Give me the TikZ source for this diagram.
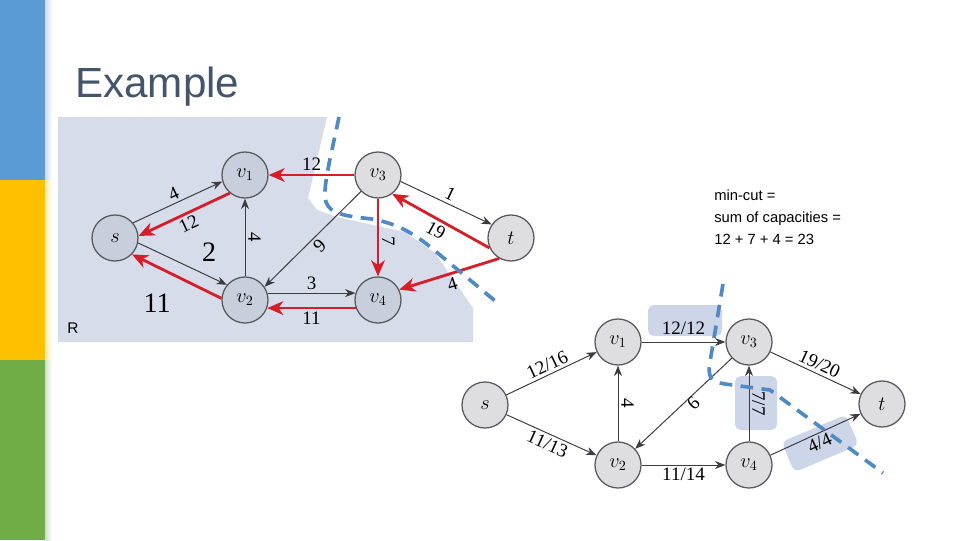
\documentclass[tikz,border=0pt]{standalone}
\usepackage{fontspec}
\setmainfont{Liberation Serif}
\newfontfamily\slidesans{Liberation Sans}
\usepackage{tikz}
\usetikzlibrary{arrows.meta,positioning}
\definecolor{barblue}{RGB}{91,155,213}
\definecolor{baryellow}{RGB}{255,192,0}
\definecolor{bargreen}{RGB}{112,173,71}
\definecolor{titlegray}{RGB}{68,84,106}
\definecolor{regionblue}{RGB}{214,220,234}
\definecolor{hiblue}{RGB}{205,213,233}
\definecolor{cutblue}{RGB}{80,138,196}
\definecolor{resred}{RGB}{214,30,40}
\definecolor{edgegray}{RGB}{60,60,64}
\definecolor{nodefill}{RGB}{222,222,224}
\definecolor{lnodefill}{RGB}{200,206,220}

\tikzset{
  vtx/.style={circle,draw=edgegray!85,line width=0.9pt,fill=nodefill,minimum size=1.15cm,inner sep=0pt,font=\fontsize{14}{14}\selectfont},
  lvtx/.style={vtx,fill=lnodefill},
  gedge/.style={draw=edgegray,line width=0.7pt,-{Stealth[length=2.6mm,width=2mm]}},
  redge/.style={draw=resred,line width=2pt,-{Stealth[length=4mm,width=3.4mm,inset=1.2mm]}},
  elab/.style={font=\fontsize{13.5}{14}\selectfont,inner sep=2pt},
  biglab/.style={font=\fontsize{20}{20}\selectfont,inner sep=2pt},
  cutline/.style={draw=cutblue,line width=2.6pt,dash pattern=on 9pt off 6pt},
  hibox/.style={fill=hiblue,rounded corners=4pt}
}

\begin{document}
\begin{tikzpicture}[x=0.025cm,y=-0.025cm,>=Stealth]
  \useasboundingbox (0,0) rectangle (960,540);
  % slide bar
  \foreach \c/\ya/\yb in {barblue/0/180,baryellow/180/360,bargreen/360/540}{
    \fill[\c] (0,\ya) rectangle (45,\yb);
    \shade[left color=\c!35,right color=white] (45,\ya) rectangle (52,\yb);
  }
  \node[anchor=base west,inner sep=0,text=titlegray,font=\slidesans\fontsize{30}{30}\selectfont] (title) at (75,97) {Example};

  % residual network, set R shaded
  \fill[regionblue] (58,117) -- (327,117) -- (308,198) -- (317,210) -- (337,217) -- (405,232) -- (435,253) -- (473,308) -- (473,342) -- (58,342) -- cycle;
  \node[lvtx] (ls) at (115,238) {$s$};
  \node[lvtx] (lv1) at (245,175) {$v_1$};
  \node[vtx] (lv3) at (378,175) {$v_3$};
  \node[vtx] (lt) at (511,238) {$t$};
  \node[lvtx] (lv2) at (245,300) {$v_2$};
  \node[lvtx] (lv4) at (378,300) {$v_4$};
  \draw[gedge] (ls.40) -- node[elab,sloped,above] (la) {4} (lv1.196);
  \draw[redge] (lv1.230) -- node[elab,sloped,below] (lb) {12} (ls.5);
  \draw[gedge] (ls.-12) -- node[biglab,pos=0.8,yshift=17pt] (lc) {2} (lv2.140);
  \draw[redge] (lv2.176) -- node[biglab,pos=0.72,yshift=-26pt] (ld) {11} (ls.-44);
  \draw[gedge] (lv2) -- node[elab,rotate=-90,anchor=south] (le) {4} (lv1);
  \draw[gedge] (lv3.224) -- node[elab,sloped,below] (lf) {9} (lv2.34);
  \draw[gedge] (lv2.17) -- node[elab,above] (lg) {3} (lv4.163);
  \draw[redge] (lv4.200) -- node[elab,below] (lh) {11} (lv2.-20);
  \draw[redge] (lv3) -- node[elab,above] (li) {12} (lv1);
  \draw[gedge] (lv3.-16) -- node[elab,sloped,above] (lj) {1} (lt.145);
  \draw[redge] (lt.205) -- node[elab,sloped,below] (lk) {19} (lv3.-53);
  \draw[redge] (lv3) -- node[elab,rotate=-90,anchor=south,pos=0.55] (ll) {7} (lv4);
  \draw[redge] (lt.240) -- node[elab,sloped,below] (lm) {4} (lv4.26);
  \node[font=\slidesans\fontsize{11}{11}\selectfont] (rset) at (73,328) {R};
  \draw[cutline] (339,117) .. controls (330,160) and (322,190) .. (326,202)
    .. controls (330,214) and (345,216) .. (372,219)
    .. controls (400,224) and (418,236) .. (440,255) -- (500,305);

  % flow network with the cut edges marked
  \fill[hibox] (648,305) rectangle (722,336);
  \fill[hibox] (735,376) rectangle (777,430);
  \fill[hibox,rotate around={23:(820,443)}] (785,427) rectangle (855,460);
  \node[vtx] (rs) at (485,405) {$s$};
  \node[vtx] (rv1) at (618,342) {$v_1$};
  \node[vtx] (rv3) at (749,342) {$v_3$};
  \node[vtx] (rt) at (882,404) {$t$};
  \node[vtx] (rv2) at (618,465) {$v_2$};
  \node[vtx] (rv4) at (749,465) {$v_4$};
  \draw[gedge] (rs) -- node[elab,sloped,above] (ra) {12/16} (rv1);
  \draw[gedge] (rs) -- node[elab,sloped,below] (rb) {11/13} (rv2);
  \draw[gedge] (rv1) -- node[elab,above=3pt] (rc) {12/12} (rv3);
  \draw[gedge] (rv2) -- node[elab,rotate=-90,anchor=south] (rd) {4} (rv1);
  \draw[gedge] (rv3) -- node[elab,xshift=7pt,rotate=-135] (re) {9} (rv2);
  \draw[gedge] (rv2) -- node[elab,below] (rf) {11/14} (rv4);
  \draw[gedge] (rv4) -- node[elab,rotate=-90,anchor=south] (rg) {7/7} (rv3);
  \draw[gedge] (rv3) -- node[elab,sloped,above] (rh) {19/20} (rt);
  \draw[gedge] (rv4) -- node[elab,sloped,below] (ri) {4/4} (rt);
  \draw[cutline] (723,284) -- (710,362) .. controls (707,378) and (712,382) .. (725,384)
    -- (770,390) -- (883,473);

  \node[anchor=north west,align=left,inner sep=0,font=\slidesans\fontsize{10.5}{15.3}\selectfont] (mincut) at (714,190)
    {min-cut =\\sum of capacities =\\12 + 7 + 4 = 23};
\end{tikzpicture}
\end{document}
